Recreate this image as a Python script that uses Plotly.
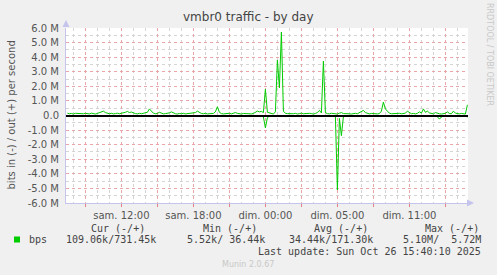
import pandas as pd
import plotly.graph_objects as go

# ---------------- data (Mbit/s, 10-minute samples, UTC) ----------------
sample_start = "2025-10-25 05:30"
sample_step = "10min"

out_mbps = [
    0.16, 0.12, 0.14, 0.10, 0.15, 0.13, 0.11, 0.14, 0.12, 0.15,
    0.13, 0.11, 0.16, 0.12, 0.10, 0.14, 0.18, 0.22, 0.30, 0.20,
    0.14, 0.12, 0.15, 0.11, 0.13, 0.16, 0.12, 0.14, 0.18, 0.22,
    0.28, 0.20, 0.24, 0.16, 0.13, 0.11, 0.15, 0.12, 0.14, 0.18,
    0.22, 0.45, 0.28, 0.16, 0.12, 0.14, 0.22, 0.15, 0.11, 0.13,
    0.15, 0.18, 0.25, 0.17, 0.12, 0.10, 0.14, 0.12, 0.15, 0.11,
    0.13, 0.10, 0.14, 0.16, 0.20, 0.30, 0.22, 0.14, 0.12, 0.15,
    0.11, 0.13, 0.10, 0.14, 0.25, 0.60, 0.22, 0.13, 0.11, 0.14,
    0.12, 0.15, 0.11, 0.13, 0.20, 0.15, 0.12, 0.10, 0.14, 0.12,
    0.15, 0.13, 0.11, 0.14, 0.22, 0.30, 0.25, 0.28, 0.20, 1.80,
    0.22, 0.18, 0.12, 0.10, 0.25, 3.80, 1.90, 5.72, 0.30, 0.15,
    0.13, 0.11, 0.14, 0.12, 0.15, 0.10, 0.13, 0.16, 0.12, 0.14,
    0.11, 0.15, 0.13, 0.10, 0.14, 0.20, 0.35, 0.18, 3.73, 0.20,
    0.13, 0.11, 0.15, 0.12, 0.14, 0.10, 0.16, 0.20, 0.13, 0.11,
    0.14, 0.12, 0.10, 0.13, 0.15, 0.12, 0.18, 0.25, 0.35, 0.20,
    0.13, 0.11, 0.14, 0.12, 0.15, 0.11, 0.13, 0.30, 0.92, 0.45,
    0.30, 0.16, 0.12, 0.14, 0.11, 0.13, 0.15, 0.12, 0.14, 0.16,
    0.30, 0.18, 0.12, 0.14, 0.11, 0.15, 0.25, 0.16, 0.45, 0.22,
    0.30, 0.18, 0.13, 0.11, 0.20, 0.14, 0.12, 0.10, 0.13, 0.15,
    0.25, 0.14, 0.12, 0.30, 0.16, 0.13, 0.11, 0.14, 0.12, 0.10,
    0.73,
]

in_mbps = [
    0.03, 0.02, 0.04, 0.03, 0.02, 0.03, 0.04, 0.02, 0.03, 0.03,
    0.02, 0.04, 0.03, 0.02, 0.03, 0.05, 0.03, 0.02, 0.04, 0.03,
    0.02, 0.03, 0.04, 0.02, 0.03, 0.03, 0.02, 0.04, 0.03, 0.05,
    0.04, 0.03, 0.02, 0.03, 0.04, 0.02, 0.03, 0.03, 0.02, 0.04,
    0.03, 0.05, 0.04, 0.02, 0.03, 0.03, 0.02, 0.04, 0.03, 0.02,
    0.03, 0.04, 0.02, 0.03, 0.03, 0.02, 0.04, 0.03, 0.02, 0.03,
    0.04, 0.02, 0.03, 0.03, 0.02, 0.04, 0.03, 0.02, 0.03, 0.04,
    0.02, 0.03, 0.03, 0.02, 0.04, 0.05, 0.03, 0.02, 0.03, 0.04,
    0.02, 0.03, 0.03, 0.02, 0.04, 0.03, 0.02, 0.03, 0.04, 0.02,
    0.03, 0.03, 0.02, 0.04, 0.03, 0.02, 0.03, 0.04, 0.10, 0.85,
    0.15, 0.04, 0.03, 0.02, 0.03, 0.05, 0.04, 0.06, 0.03, 0.02,
    0.03, 0.04, 0.02, 0.03, 0.03, 0.02, 0.04, 0.03, 0.02, 0.03,
    0.04, 0.02, 0.03, 0.03, 0.02, 0.04, 0.03, 0.02, 0.05, 0.03,
    0.02, 0.03, 0.04, 0.02, 0.06, 5.10, 0.20, 1.38, 0.08, 0.03,
    0.02, 0.04, 0.03, 0.02, 0.03, 0.04, 0.02, 0.03, 0.03, 0.02,
    0.04, 0.03, 0.02, 0.03, 0.04, 0.02, 0.03, 0.03, 0.05, 0.04,
    0.02, 0.03, 0.04, 0.02, 0.03, 0.03, 0.02, 0.04, 0.03, 0.02,
    0.03, 0.04, 0.02, 0.03, 0.03, 0.02, 0.04, 0.03, 0.02, 0.03,
    0.04, 0.02, 0.03, 0.03, 0.02, 0.08, 0.25, 0.10, 0.03, 0.02,
    0.03, 0.04, 0.02, 0.03, 0.03, 0.02, 0.04, 0.03, 0.02, 0.03,
    0.109,
]

x_range = ["2025-10-25 05:23", "2025-10-26 14:53"]
x_tick_vals = ["2025-10-25 07:00", "2025-10-25 10:00", "2025-10-25 13:00",
               "2025-10-25 16:00", "2025-10-25 19:00", "2025-10-25 22:00",
               "2025-10-26 01:00", "2025-10-26 04:00", "2025-10-26 07:00",
               "2025-10-26 10:00", "2025-10-26 13:00"]
x_tick_text = ["", "sam. 12:00", "", "sam. 18:00", "", "dim. 00:00",
               "", "dim. 05:00", "", "dim. 11:00", ""]

y_tick_vals = [-6e6, -5e6, -4e6, -3e6, -2e6, -1e6, 0, 1e6, 2e6, 3e6, 4e6, 5e6, 6e6]
y_tick_text = ["-6.0 M", "-5.0 M", "-4.0 M", "-3.0 M", "-2.0 M", "-1.0 M", "0.0",
               "1.0 M", "2.0 M", "3.0 M", "4.0 M", "5.0 M", "6.0 M"]

title_text = "vmbr0 traffic - by day"
y_title = "bits in (-) / out (+) per second"
legend_headers = ["Cur (-/+)", "Min (-/+)", "Avg (-/+)", "Max (-/+)"]
legend_label = "bps"
legend_values = ["109.06k/731.45k", "  5.52k/ 36.44k", " 34.44k/171.30k", "  5.10M/  5.72M"]
last_update = "Last update: Sun Oct 26 15:40:10 2025"
munin_version = "Munin 2.0.67"
side_credit = "RRDTOOL / TOBI OETIKER"

# ---------------- figure ----------------
W, H = 497, 275
L, R, T, B = 66, 29, 28, 72
PW, PH = W - L - R, H - T - B


def px(x):
    return (x - L) / PW


def py(y):
    return (H - B - y) / PH


times = pd.date_range(sample_start, periods=len(out_mbps), freq=sample_step)
GREEN = "#00cc00"

fig = go.Figure()
fig.add_trace(go.Scatter(x=times, y=[-v * 1e6 for v in in_mbps], mode="lines",
                         line=dict(color=GREEN, width=1), showlegend=False))
fig.add_trace(go.Scatter(x=times, y=[v * 1e6 for v in out_mbps], mode="lines",
                         line=dict(color=GREEN, width=1), showlegend=False))

RED_GRID = "#eaa6a6"
GREY_GRID = "#d4d4d4"
AXIS_COL = "#c4c4ec"
TXT = "#555555"

fig.update_layout(
    width=W, height=H,
    margin=dict(l=L, r=R, t=T, b=B, pad=0),
    paper_bgcolor="#f0f0f0", plot_bgcolor="#ffffff",
    font=dict(family="DejaVu Sans", size=10, color=TXT),
    showlegend=False,
)
fig.update_xaxes(
    type="date", range=x_range,
    tickmode="array", tickvals=x_tick_vals, ticktext=x_tick_text,
    ticks="outside", ticklen=3, tickcolor="#e08080", tickwidth=1,
    showgrid=True, gridcolor=RED_GRID, griddash="dot", gridwidth=1,
    showline=True, linecolor=AXIS_COL, linewidth=1,
    tickfont=dict(family="DejaVu Sans", size=10, color=TXT),
    minor=dict(dtick=3600000, tick0="2025-10-25 00:00", showgrid=True,
               gridcolor=GREY_GRID, griddash="dot", gridwidth=1, ticks=""),
    fixedrange=True,
)
fig.update_yaxes(
    range=[-6e6, 6e6],
    tickmode="array", tickvals=y_tick_vals, ticktext=y_tick_text,
    ticks="", showgrid=True, gridcolor=RED_GRID, griddash="dot", gridwidth=1,
    zeroline=True, zerolinecolor="#000000", zerolinewidth=2,
    showline=True, linecolor=AXIS_COL, linewidth=1,
    tickfont=dict(family="DejaVu Sans", size=10, color=TXT),
    ticklabelstandoff=4,
    minor=dict(dtick=5e5, tick0=0, showgrid=True, gridcolor=GREY_GRID,
               griddash="dot", gridwidth=1, ticks=""),
    fixedrange=True,
)
try:
    fig.update_yaxes(zerolinelayer="above traces")
except Exception:
    pass

ann = []
ann.append(dict(text=title_text, x=px(248.5), y=py(17), xanchor="center", yanchor="middle",
                font=dict(family="DejaVu Sans", size=12, color="#444444")))
ann.append(dict(text=y_title, x=px(11), y=py(115.5), xanchor="center", yanchor="middle",
                textangle=-90, font=dict(family="DejaVu Sans", size=10, color=TXT)))
ann.append(dict(text=side_credit, x=px(490), y=py(54), xanchor="center", yanchor="middle",
                textangle=90, font=dict(family="DejaVu Sans", size=8, color="#c8c8c8")))

MONO = dict(family="DejaVu Sans Mono", size=10, color="#444444")
for txt, x0 in zip(legend_headers, [89.3, 201, 312.3, 422.7]):
    ann.append(dict(text=txt.replace(" ", "&nbsp;"), x=px(x0), y=py(228), xanchor="left",
                    yanchor="middle", font=MONO))
ann.append(dict(text=legend_label, x=px(26.5), y=py(239.5), xanchor="left", yanchor="middle", font=MONO))
for txt, x1 in zip(legend_values, [157.7, 266.5, 375, 482.7]):
    ann.append(dict(text=txt.replace(" ", "&nbsp;"), x=px(x1), y=py(239.5), xanchor="right",
                    yanchor="middle", font=MONO))
ann.append(dict(text=last_update.replace(" ", "&nbsp;"), x=px(482.7), y=py(251), xanchor="right",
                yanchor="middle", font=MONO))
ann.append(dict(text=munin_version, x=px(248), y=py(264.5), xanchor="center", yanchor="middle",
                font=dict(family="DejaVu Sans", size=8, color="#c8c8c8")))
for a in ann:
    a.update(xref="paper", yref="paper", showarrow=False)
fig.update_layout(annotations=ann)

shapes = [
    # legend colour swatch
    dict(type="rect", xref="paper", yref="paper", x0=px(14), x1=px(20), y0=py(242.5), y1=py(236.5),
         fillcolor=GREEN, line=dict(width=0)),
    # axis arrows
    dict(type="path", xref="paper", yref="paper",
         path=f"M {px(62.5)} {py(27)} L {px(69.5)} {py(27)} L {px(66)} {py(20)} Z",
         fillcolor=AXIS_COL, line=dict(width=0)),
    dict(type="path", xref="paper", yref="paper",
         path=f"M {px(467)} {py(199.5)} L {px(467)} {py(206.5)} L {px(474)} {py(203)} Z",
         fillcolor=AXIS_COL, line=dict(width=0)),
]
fig.update_layout(shapes=shapes)

fig.write_html("out.html")
